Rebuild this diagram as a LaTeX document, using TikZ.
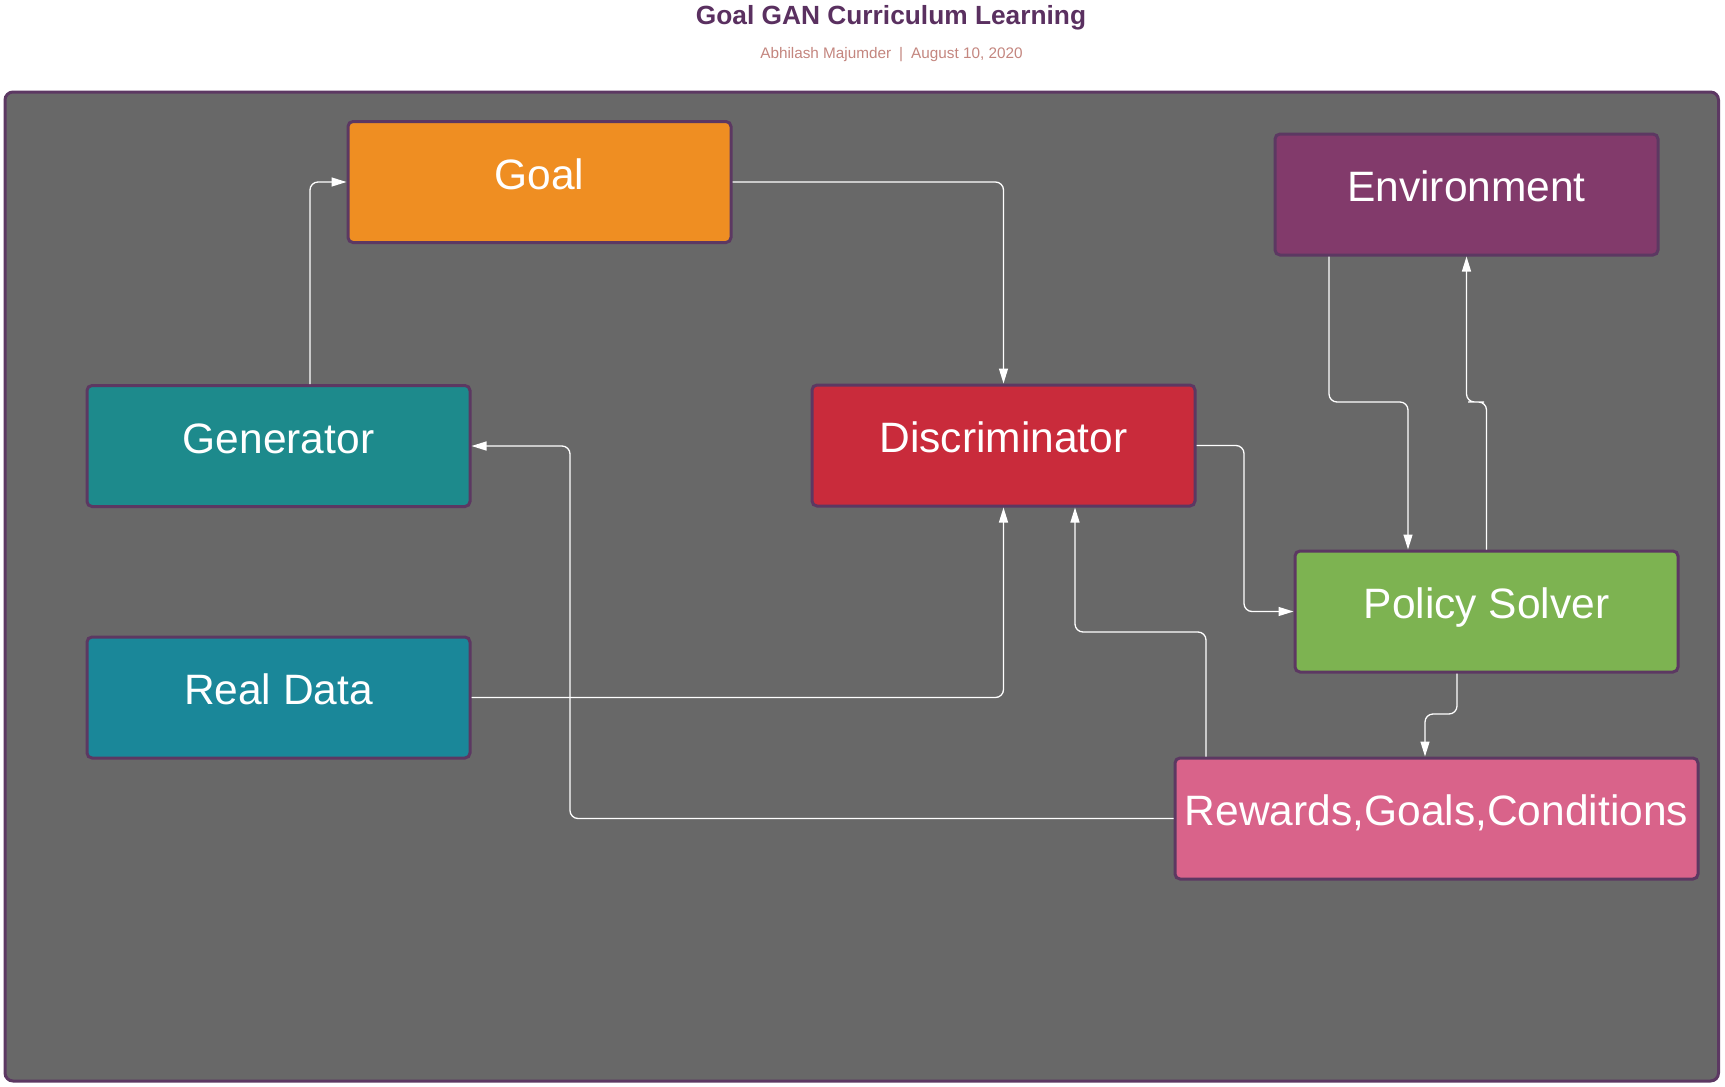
\documentclass[tikz,border=0pt]{standalone}
\usepackage{fontspec}
\setmainfont{Liberation Sans}
\usetikzlibrary{arrows.meta,calc}
\definecolor{framefill}{HTML}{686868}
\definecolor{edgepurple}{HTML}{5C3862}
\definecolor{goalc}{HTML}{EF8E22}
\definecolor{envc}{HTML}{823A6B}
\definecolor{genc}{HTML}{1D8A8C}
\definecolor{discc}{HTML}{C92B3B}
\definecolor{policyc}{HTML}{7DB351}
\definecolor{realc}{HTML}{1A8799}
\definecolor{rewc}{HTML}{D9638A}
\definecolor{titlec}{HTML}{5A3060}
\definecolor{subc}{HTML}{C4867F}
\tikzset{
  boxnode/.style={draw=edgepurple, line width=3pt, rounded corners=5pt,
    minimum width=383pt, minimum height=121pt, inner sep=0pt,
    text=white, font=\fontsize{42.5}{46}\selectfont,
    text height=32pt, text depth=18pt},
  conn/.style={draw=white, line width=1.3pt, rounded corners=8pt,
    -{Triangle[length=15pt,width=9pt]}},
}
\begin{document}
\begin{tikzpicture}[x=1pt,y=-1pt]
\useasboundingbox (0,0) rectangle (1725,1087);
\fill[white] (0,0) rectangle (1725,1087);
\draw[fill=framefill, draw=edgepurple, line width=3pt, rounded corners=8pt] (5,92) rectangle (1718.5,1081);
\node[anchor=base, text=titlec, font=\bfseries\fontsize{26.3}{30}\selectfont] (title) at (891,24) {Goal GAN Curriculum Learning};
\node[anchor=base, text=subc, font=\fontsize{15.3}{18}\selectfont] (subtitle) at (891.5,58) {Abhilash Majumder\hspace{8pt}|\hspace{8pt}August 10, 2020};

\node[boxnode, fill=goalc] (goal) at (539.5,182) {Goal};
\node[boxnode, fill=envc] (env) at (1466.5,194.5) {Environment};
\node[boxnode, fill=genc] (gen) at (278.5,446) {Generator};
\node[boxnode, fill=discc] (disc) at (1003.5,445.5) {Discriminator};
\node[boxnode, fill=policyc] (policy) at (1486.5,611.5) {Policy Solver};
\node[boxnode, fill=realc] (real) at (278.5,697.5) {Real Data};
\node[boxnode, fill=rewc, minimum width=523pt] (rew) at (1436.5,818.5) {Rewards,Goals,Conditions};

\coordinate (c4) at (570,446);
\coordinate (c5) at (1075,632);
\coordinate (c6) at (1244,530);
\coordinate (c7) at (1370,402);
\coordinate (c8) at (1476,402);
\coordinate (c9) at (1440,714);

\draw[conn] ([xshift=31.5pt]gen.north) |- (goal.west);
\draw[conn] (goal.east) -| (disc.north);
\draw[conn] (real.east) -| (disc.south);
\draw[conn] (rew.west) -| (c4) -- (gen.east);
\draw[conn] ([xshift=-230.5pt]rew.north) |- (c5) -- ([xshift=71.5pt]disc.south);
\draw[conn] (disc.east) -| (c6) |- (policy.west);
\draw[conn] ([xshift=-137.5pt]env.south) |- (c7) -| ([xshift=-78.5pt]policy.north);
\draw[conn] (policy.north) |- (c8) -| (env.south);
\draw[conn] ([xshift=-29.5pt]policy.south) |- (c9) -| ([xshift=-11.5pt]rew.north);
\end{tikzpicture}
\end{document}
